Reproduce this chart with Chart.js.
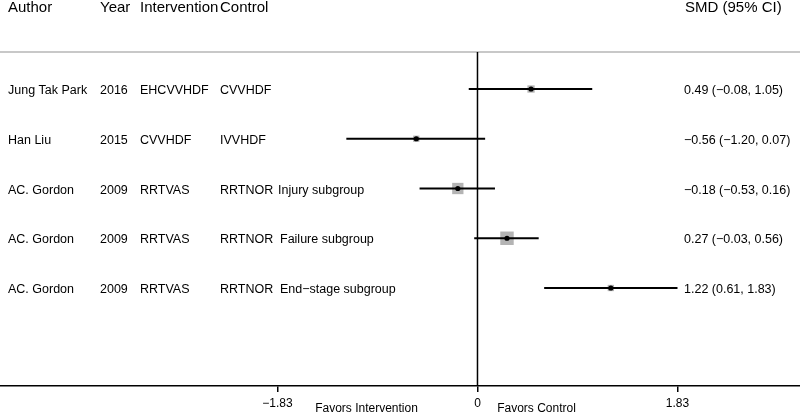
<!DOCTYPE html>
<html>
<head>
<meta charset="utf-8">
<script src="https://cdn.jsdelivr.net/npm/chart.js@4/dist/chart.umd.min.js"></script>
<style>
  html, body { margin: 0; padding: 0; background: #fff; }
  #wrap { width: 800px; height: 414px; }
</style>
</head>
<body>
<div id="wrap"><canvas id="forest" width="800" height="414"></canvas></div>
<script>
// Study data
const authors = ['Jung Tak Park', 'Han Liu', 'AC. Gordon', 'AC. Gordon', 'AC. Gordon'];
const years = ['2016', '2015', '2009', '2009', '2009'];
const interventions = ['EHCVVHDF', 'CVVHDF', 'RRTVAS', 'RRTVAS', 'RRTVAS'];
const controls = ['CVVHDF', 'IVVHDF', 'RRTNOR', 'RRTNOR', 'RRTNOR'];
const subgroups = ['', '', 'Injury subgroup', 'Failure subgroup', 'End\u2212stage subgroup'];
const smd = [0.49, -0.56, -0.18, 0.27, 1.22];
const lower = [-0.08, -1.20, -0.53, -0.03, 0.61];
const upper = [1.05, 0.07, 0.16, 0.56, 1.83];
const weights = [12, 9, 29, 41, 9];
const tickValues = [-1.83, 0, 1.83];

const headers = ['Author', 'Year', 'Intervention', 'Control'];
const FONT = "'Liberation Sans', Arial, sans-serif";

function fmt(v) {
  return v.toFixed(2).replace('-', '\u2212');
}

const rows = smd.map((v, i) => i + 1);

// one line per confidence interval
const ciSets = smd.map((v, i) => ({
  data: [{ x: lower[i], y: rows[i] }, { x: upper[i], y: rows[i] }],
  showLine: true,
  borderColor: '#000',
  borderWidth: 2,
  pointRadius: 0,
  order: 1
}));

const Y_MIN = 0.256, Y_MAX = 6.97;

// text columns
const textPlugin = {
  id: 'forestText',
  beforeDatasetsDraw(chart) {
    const ctx = chart.ctx;
    const top = chart.chartArea.top;
    ctx.save();
    ctx.strokeStyle = '#c8c8c8';
    ctx.lineWidth = 2;
    ctx.beginPath();
    ctx.moveTo(0, top);
    ctx.lineTo(chart.width, top);
    ctx.stroke();
    ctx.restore();
  },
  afterDraw(chart) {
    const ctx = chart.ctx;
    const yScale = chart.scales.y;
    const xScale = chart.scales.x;
    ctx.save();
    ctx.fillStyle = '#000';
    ctx.textBaseline = 'alphabetic';

    // header
    ctx.font = '15px ' + FONT;
    const headX = [8, 100, 140, 220];
    headers.forEach((h, i) => ctx.fillText(h, headX[i], 12));
    ctx.fillText('SMD (95% CI)', 685, 12);

    // rows
    ctx.font = '12.5px ' + FONT;
    rows.forEach((r, i) => {
      const y = yScale.getPixelForValue(r) + 5;
      ctx.fillText(authors[i], 8, y);
      ctx.fillText(years[i], 100, y);
      ctx.fillText(interventions[i], 140, y);
      ctx.fillText(controls[i], 220, y);
      if (subgroups[i]) ctx.fillText(subgroups[i], i === 2 ? 278 : 280, y);
      ctx.fillText(fmt(smd[i]) + ' (' + fmt(lower[i]) + ', ' + fmt(upper[i]) + ')', 684, y);
    });

    // direction labels
    ctx.font = '12px ' + FONT;
    ctx.textAlign = 'center';
    const x0 = xScale.getPixelForValue(0);
    ctx.fillText('Favors Intervention', x0 - 111, 412);
    ctx.fillText('Favors Control', x0 + 59, 412);
    ctx.restore();
  }
};

new Chart(document.getElementById('forest'), {
  type: 'scatter',
  data: {
    datasets: [
      {
        // point estimates
        data: smd.map((v, i) => ({ x: v, y: rows[i] })),
        pointStyle: 'circle',
        pointRadius: 2.6,
        backgroundColor: '#000',
        borderColor: '#000',
        borderWidth: 0,
        order: 0
      },
      ...ciSets,
      {
        // line of no effect
        data: [{ x: 0, y: Y_MIN }, { x: 0, y: Y_MAX }],
        showLine: true,
        borderColor: '#000',
        borderWidth: 1.5,
        pointRadius: 0,
        order: 2
      },
      {
        // weight boxes
        data: smd.map((v, i) => ({ x: v, y: rows[i] })),
        pointStyle: 'rect',
        pointRadius: weights.map(w => Math.sqrt(w) * 2.1 / Math.SQRT2),
        backgroundColor: '#b4b4b4',
        borderWidth: 0,
        order: 3
      }
    ]
  },
  options: {
    responsive: false,
    animation: false,
    events: [],
    layout: { autoPadding: false, padding: { top: 52, left: 0, right: 0, bottom: 0 } },
    plugins: {
      legend: { display: false },
      tooltip: { enabled: false }
    },
    scales: {
      x: {
        type: 'linear',
        min: -4.369,
        max: 2.951,
        afterBuildTicks: s => { s.ticks = tickValues.map(v => ({ value: v })); },
        afterFit: s => { s.height = 28; },
        border: { display: true, color: '#000', width: 1.5 },
        grid: { drawOnChartArea: false, drawTicks: true, tickLength: 6, color: '#000', lineWidth: 1.5 },
        ticks: {
          padding: 4,
          color: '#000',
          font: { family: FONT, size: 12 },
          maxRotation: 0,
          autoSkip: false,
          callback: v => (v === 0 ? '0' : fmt(v))
        }
      },
      y: {
        type: 'linear',
        reverse: true,
        min: Y_MIN,
        max: Y_MAX,
        display: false
      }
    }
  },
  plugins: [textPlugin]
});
</script>
</body>
</html>
